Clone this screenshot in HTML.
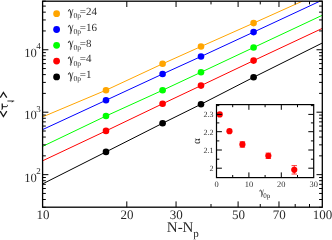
<!DOCTYPE html>
<html><head><meta charset="utf-8"><title>plot</title>
<style>
html,body{margin:0;padding:0;background:#fff;}
body{width:332px;height:240px;overflow:hidden;}
svg{display:block;}
text{text-rendering:geometricPrecision;}
text{font-family:"Liberation Serif",serif;fill:#000;fill-opacity:0.85;}
</style></head><body>
<svg width="332" height="240" viewBox="0 0 332 240">
<rect x="0" y="0" width="332" height="240" fill="#fff"/>
<g style="mix-blend-mode:multiply">

<polyline fill="none" stroke="#ffa500" stroke-width="1" points="42.60,116.90 106.00,90.20 162.60,63.80 201.00,46.50 253.60,23.10 302.30,1.20"/>
<polyline fill="none" stroke="#0000ff" stroke-width="1" points="42.60,129.60 106.00,100.25 162.60,74.00 201.00,56.50 253.60,32.10 319.90,1.20"/>
<polyline fill="none" stroke="#00ff00" stroke-width="1" points="42.60,146.40 106.00,116.00 162.60,90.25 201.00,72.25 253.60,47.50 322.30,15.25"/>
<polyline fill="none" stroke="#ff0000" stroke-width="1" points="42.60,160.80 106.00,130.90 162.60,103.75 201.00,85.60 253.60,60.60 322.30,28.40"/>
<polyline fill="none" stroke="#000000" stroke-width="1" points="42.60,183.90 106.00,151.90 162.60,123.25 201.00,104.25 253.60,77.25 322.30,43.00"/>
<circle cx="106.00" cy="90.20" r="3.3" fill="#ffa500"/>
<circle cx="162.60" cy="63.80" r="3.3" fill="#ffa500"/>
<circle cx="201.00" cy="46.50" r="3.3" fill="#ffa500"/>
<circle cx="253.60" cy="23.10" r="3.3" fill="#ffa500"/>
<circle cx="106.00" cy="100.25" r="3.3" fill="#0000ff"/>
<circle cx="162.60" cy="74.00" r="3.3" fill="#0000ff"/>
<circle cx="201.00" cy="56.50" r="3.3" fill="#0000ff"/>
<circle cx="253.60" cy="32.10" r="3.3" fill="#0000ff"/>
<circle cx="106.00" cy="116.00" r="3.3" fill="#00ff00"/>
<circle cx="162.60" cy="90.25" r="3.3" fill="#00ff00"/>
<circle cx="201.00" cy="72.25" r="3.3" fill="#00ff00"/>
<circle cx="253.60" cy="47.50" r="3.3" fill="#00ff00"/>
<circle cx="106.00" cy="130.90" r="3.3" fill="#ff0000"/>
<circle cx="162.60" cy="103.75" r="3.3" fill="#ff0000"/>
<circle cx="201.00" cy="85.60" r="3.3" fill="#ff0000"/>
<circle cx="253.60" cy="60.60" r="3.3" fill="#ff0000"/>
<circle cx="106.00" cy="151.90" r="3.3" fill="#000000"/>
<circle cx="162.60" cy="123.25" r="3.3" fill="#000000"/>
<circle cx="201.00" cy="104.25" r="3.3" fill="#000000"/>
<circle cx="253.60" cy="77.25" r="3.3" fill="#000000"/>
<circle cx="56.6" cy="13.70" r="3.4" fill="#ffa500"/>
<g transform="translate(68.10,15.50) scale(1.000)" fill="none" stroke="#000" stroke-opacity="0.85" stroke-linecap="round"><path d="M0.3,-4.5 C0.4,-6.3 1.7,-6.5 2.1,-4.9 L3.1,-0.6" stroke-width="1.0"/><path d="M4.8,-6.1 L3.1,-0.6 C2.9,1.2 3.0,2.6 2.5,2.6 C1.9,2.6 2.1,0.9 3.1,-0.6" stroke-width="0.6"/></g>
<text x="73.5" y="18.20" font-size="7.6" fill-opacity="1">0p</text>
<text x="79.7" y="14.90" font-size="11">=24</text>
<circle cx="56.6" cy="29.50" r="3.4" fill="#0000ff"/>
<g transform="translate(68.10,31.30) scale(1.000)" fill="none" stroke="#000" stroke-opacity="0.85" stroke-linecap="round"><path d="M0.3,-4.5 C0.4,-6.3 1.7,-6.5 2.1,-4.9 L3.1,-0.6" stroke-width="1.0"/><path d="M4.8,-6.1 L3.1,-0.6 C2.9,1.2 3.0,2.6 2.5,2.6 C1.9,2.6 2.1,0.9 3.1,-0.6" stroke-width="0.6"/></g>
<text x="73.5" y="34.00" font-size="7.6" fill-opacity="1">0p</text>
<text x="79.7" y="30.70" font-size="11">=16</text>
<circle cx="56.6" cy="45.30" r="3.4" fill="#00ff00"/>
<g transform="translate(68.10,47.10) scale(1.000)" fill="none" stroke="#000" stroke-opacity="0.85" stroke-linecap="round"><path d="M0.3,-4.5 C0.4,-6.3 1.7,-6.5 2.1,-4.9 L3.1,-0.6" stroke-width="1.0"/><path d="M4.8,-6.1 L3.1,-0.6 C2.9,1.2 3.0,2.6 2.5,2.6 C1.9,2.6 2.1,0.9 3.1,-0.6" stroke-width="0.6"/></g>
<text x="73.5" y="49.80" font-size="7.6" fill-opacity="1">0p</text>
<text x="79.7" y="46.50" font-size="11">=8</text>
<circle cx="56.6" cy="61.10" r="3.4" fill="#ff0000"/>
<g transform="translate(68.10,62.90) scale(1.000)" fill="none" stroke="#000" stroke-opacity="0.85" stroke-linecap="round"><path d="M0.3,-4.5 C0.4,-6.3 1.7,-6.5 2.1,-4.9 L3.1,-0.6" stroke-width="1.0"/><path d="M4.8,-6.1 L3.1,-0.6 C2.9,1.2 3.0,2.6 2.5,2.6 C1.9,2.6 2.1,0.9 3.1,-0.6" stroke-width="0.6"/></g>
<text x="73.5" y="65.60" font-size="7.6" fill-opacity="1">0p</text>
<text x="79.7" y="62.30" font-size="11">=4</text>
<circle cx="56.6" cy="76.90" r="3.4" fill="#000000"/>
<g transform="translate(68.10,78.70) scale(1.000)" fill="none" stroke="#000" stroke-opacity="0.85" stroke-linecap="round"><path d="M0.3,-4.5 C0.4,-6.3 1.7,-6.5 2.1,-4.9 L3.1,-0.6" stroke-width="1.0"/><path d="M4.8,-6.1 L3.1,-0.6 C2.9,1.2 3.0,2.6 2.5,2.6 C1.9,2.6 2.1,0.9 3.1,-0.6" stroke-width="0.6"/></g>
<text x="73.5" y="81.40" font-size="7.6" fill-opacity="1">0p</text>
<text x="79.7" y="78.10" font-size="11">=1</text>
<rect x="42.60" y="1.20" width="279.70" height="206.00" fill="none" stroke="#000" stroke-width="1.3"/>
<path d="M42.60 207.30h3.20 M322.30 207.30h-3.20 M42.60 199.50h3.20 M322.30 199.50h-3.20 M42.60 193.45h3.20 M322.30 193.45h-3.20 M42.60 188.50h3.20 M322.30 188.50h-3.20 M42.60 184.32h3.20 M322.30 184.32h-3.20 M42.60 180.70h3.20 M322.30 180.70h-3.20 M42.60 177.51h3.20 M322.30 177.51h-3.20 M42.60 174.65h5.80 M322.30 174.65h-5.80 M42.60 155.85h3.20 M322.30 155.85h-3.20 M42.60 144.85h3.20 M322.30 144.85h-3.20 M42.60 137.05h3.20 M322.30 137.05h-3.20 M42.60 131.00h3.20 M322.30 131.00h-3.20 M42.60 126.05h3.20 M322.30 126.05h-3.20 M42.60 121.87h3.20 M322.30 121.87h-3.20 M42.60 118.25h3.20 M322.30 118.25h-3.20 M42.60 115.06h3.20 M322.30 115.06h-3.20 M42.60 112.20h5.80 M322.30 112.20h-5.80 M42.60 93.40h3.20 M322.30 93.40h-3.20 M42.60 82.40h3.20 M322.30 82.40h-3.20 M42.60 74.60h3.20 M322.30 74.60h-3.20 M42.60 68.55h3.20 M322.30 68.55h-3.20 M42.60 63.60h3.20 M322.30 63.60h-3.20 M42.60 59.42h3.20 M322.30 59.42h-3.20 M42.60 55.80h3.20 M322.30 55.80h-3.20 M42.60 52.61h3.20 M322.30 52.61h-3.20 M42.60 49.75h5.80 M322.30 49.75h-5.80 M42.60 30.95h3.20 M322.30 30.95h-3.20 M42.60 19.95h3.20 M322.30 19.95h-3.20 M42.60 12.15h3.20 M322.30 12.15h-3.20 M42.60 6.10h3.20 M322.30 6.10h-3.20 M42.60 1.15h3.20 M322.30 1.15h-3.20 M126.80 207.20v-5.80 M126.80 1.20v5.80 M176.05 207.20v-5.80 M176.05 1.20v5.80 M211.00 207.20v-3.20 M211.00 1.20v3.20 M238.10 207.20v-5.80 M238.10 1.20v5.80 M260.25 207.20v-3.20 M260.25 1.20v3.20 M278.97 207.20v-5.80 M278.97 1.20v5.80 M295.19 207.20v-3.20 M295.19 1.20v3.20 M309.50 207.20v-3.20 M309.50 1.20v3.20" stroke="#000" stroke-width="1" fill="none"/>
<text x="24.2" y="181.55" font-size="12.6" fill-opacity="1">10<tspan font-size="9" dy="-7.3" dx="-0.6">2</tspan></text>
<text x="24.2" y="119.10" font-size="12.6" fill-opacity="1">10<tspan font-size="9" dy="-7.3" dx="-0.6">3</tspan></text>
<text x="24.2" y="56.65" font-size="12.6" fill-opacity="1">10<tspan font-size="9" dy="-7.3" dx="-0.6">4</tspan></text>
<text x="42.90" y="218.8" font-size="13" fill-opacity="1" text-anchor="middle">10</text>
<text x="127.10" y="218.8" font-size="13" fill-opacity="1" text-anchor="middle">20</text>
<text x="176.35" y="218.8" font-size="13" fill-opacity="1" text-anchor="middle">30</text>
<text x="238.40" y="218.8" font-size="13" fill-opacity="1" text-anchor="middle">50</text>
<text x="279.27" y="218.8" font-size="13" fill-opacity="1" text-anchor="middle">70</text>
<text x="322.60" y="218.8" font-size="13" fill-opacity="1" text-anchor="middle">100</text>
<text x="166.8" y="231.6" font-size="15">N-N<tspan font-size="11" dy="5.6" dx="-0.3">p</tspan></text>
<g fill="none" stroke="#000" stroke-opacity="0.9" stroke-linecap="butt" stroke-linejoin="miter"><path d="M0.2,97.6 L3.4,92.4 L6.8,97.6" stroke-width="1.3"/><path d="M0.2,111.2 L3.4,116.6 L6.8,111.2" stroke-width="1.3"/><path d="M7.4,101 H14.2 M12.6,101 L12,102.3" stroke-width="0.9"/><path d="M1.6,109.6 C2.6,109.4 2.4,108.4 2.3,107 L2.2,103.6" stroke-width="1.3"/><path d="M2.3,106.7 H6.2 C7.6,106.7 7.8,105.8 7.2,104.8" stroke-width="1.0"/></g>
<rect x="216.50" y="104.60" width="97.20" height="73.00" fill="#fff"/>
<circle cx="219.74" cy="114.40" r="3.1" fill="#f00"/>
<circle cx="229.46" cy="131.22" r="3.1" fill="#f00"/>
<path d="M242.42 141.77V147.17 M239.72 141.77h5.4 M239.72 147.17h5.4" stroke="#f00" stroke-width="0.8" fill="none"/>
<circle cx="242.42" cy="144.47" r="3.1" fill="#f00"/>
<path d="M268.34 153.10V158.50 M265.64 153.10h5.4 M265.64 158.50h5.4" stroke="#f00" stroke-width="0.8" fill="none"/>
<circle cx="268.34" cy="155.80" r="3.1" fill="#f00"/>
<path d="M294.26 165.64V174.04 M291.56 165.64h5.4 M291.56 174.04h5.4" stroke="#f00" stroke-width="0.8" fill="none"/>
<circle cx="294.26" cy="169.84" r="3.1" fill="#f00"/>
<rect x="216.50" y="104.60" width="97.20" height="73.00" fill="none" stroke="#000" stroke-width="1.2"/>
<path d="M232.70 177.60v-2.60 M232.70 104.60v2.60 M248.90 177.60v-5.20 M248.90 104.60v5.20 M265.10 177.60v-2.60 M265.10 104.60v2.60 M281.30 177.60v-5.20 M281.30 104.60v5.20 M297.50 177.60v-2.60 M297.50 104.60v2.60 M216.50 168.20h5.40 M313.70 168.20h-5.40 M216.50 159.20h2.80 M313.70 159.20h-2.80 M216.50 150.00h5.40 M313.70 150.00h-5.40 M216.50 140.90h2.80 M313.70 140.90h-2.80 M216.50 131.70h5.40 M313.70 131.70h-5.40 M216.50 122.90h2.80 M313.70 122.90h-2.80 M216.50 114.40h5.40 M313.70 114.40h-5.40 M216.50 105.60h2.80 M313.70 105.60h-2.80" stroke="#000" stroke-width="1" fill="none"/>
<text x="213.6" y="171.00" font-size="8" fill-opacity="1" text-anchor="end">2</text>
<text x="213.6" y="152.80" font-size="8" fill-opacity="1" text-anchor="end">2.1</text>
<text x="213.6" y="134.50" font-size="8" fill-opacity="1" text-anchor="end">2.2</text>
<text x="213.6" y="117.20" font-size="8" fill-opacity="1" text-anchor="end">2.3</text>
<text x="216.50" y="186.5" font-size="8.4" fill-opacity="1" text-anchor="middle">0</text>
<text x="248.90" y="186.5" font-size="8.4" fill-opacity="1" text-anchor="middle">10</text>
<text x="281.30" y="186.5" font-size="8.4" fill-opacity="1" text-anchor="middle">20</text>
<text x="313.70" y="186.5" font-size="8.4" fill-opacity="1" text-anchor="middle">30</text>
<g transform="translate(259.60,194.70) scale(0.800)" fill="none" stroke="#000" stroke-opacity="0.85" stroke-linecap="round"><path d="M0.3,-4.5 C0.4,-6.3 1.7,-6.5 2.1,-4.9 L3.1,-0.6" stroke-width="1.0"/><path d="M4.8,-6.1 L3.1,-0.6 C2.9,1.2 3.0,2.6 2.5,2.6 C1.9,2.6 2.1,0.9 3.1,-0.6" stroke-width="0.6"/></g>
<text x="263.2" y="198.4" font-size="7" fill-opacity="1">0p</text>
<text transform="translate(199.7,144) rotate(-90)" font-size="11" fill-opacity="1">α</text>
</g></svg></body></html>
